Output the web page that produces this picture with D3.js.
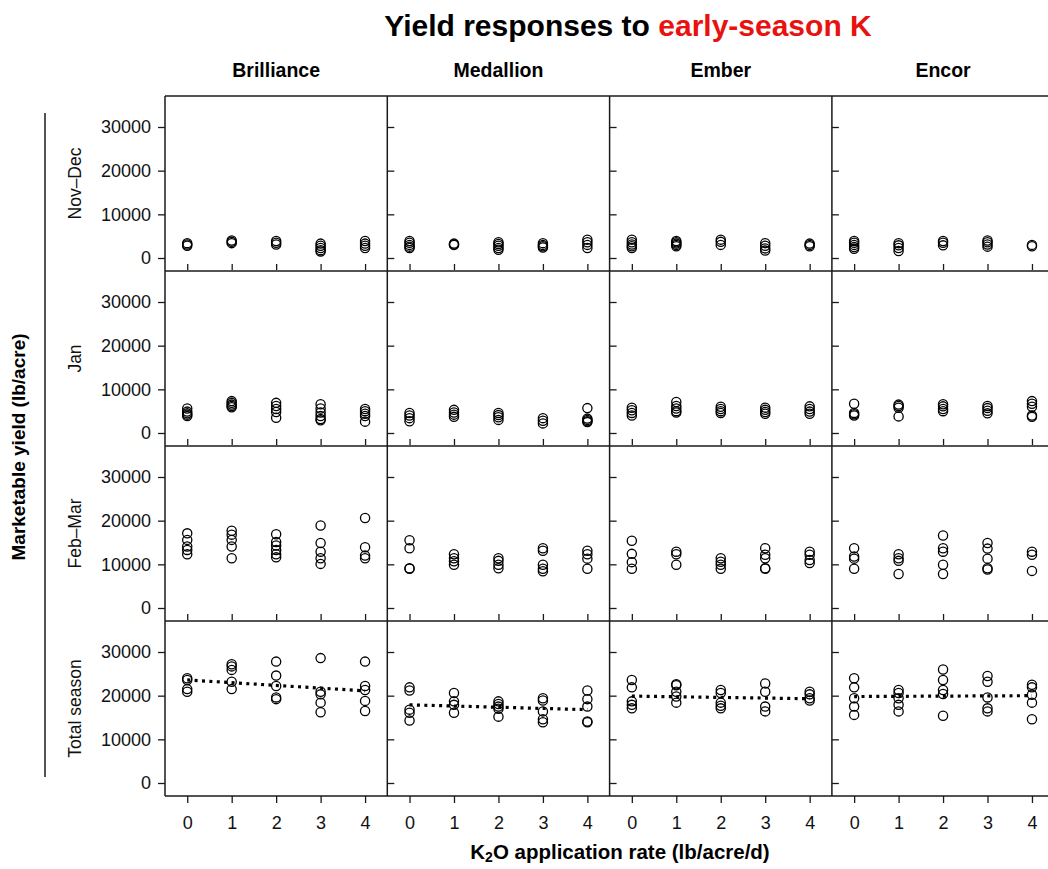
<!DOCTYPE html>
<html><head><meta charset="utf-8">
<script src="https://cdn.jsdelivr.net/npm/d3@7"></script>
<style>
html,body{margin:0;padding:0;background:#fff;}
svg{display:block;font-family:"Liberation Sans",Arial,sans-serif;}
</style></head>
<body><svg id="c" width="1048" height="869"></svg>
<script>
// ---- data ----
const cultivars = ["Brilliance", "Medallion", "Ember", "Encor"];
const periods = ["Nov\u2013Dec", "Jan", "Feb\u2013Mar", "Total season"];
const rates = [0, 1, 2, 3, 4];
const yTickValues = [0, 10000, 20000, 30000];

// each: cultivar -> rate -> replicate yields (lb/acre)
const novDecYield = [
  [[3400,3100,2800],[4000,3700,3400],[3900,3500,3100],[3300,2800,2300,1800,1500],[3900,3300,2800,2300]],
  [[3900,3500,3000,2600,2300],[3300,3100,3000],[3600,3200,2800,2300,1900],[3400,3000,2700,2400],[4200,3600,3000,2300]],
  [[4200,3600,3100,2700,2300],[3900,3600,3300,3000,2700],[4200,3700,3000],[3400,2800,2200,1700],[3300,3000,2700]],
  [[3900,3500,3000,2500,2100],[3400,2900,2300,1600],[3900,3500,2900],[4000,3600,3100,2600],[3000,2700]]
];
const janYield = [
  [[5600,4900,4500,4200,3900],[7300,6900,6500,6200,5900],[6900,6200,5500,4800,3500],[6600,5600,4700,3900,3200,2900],[5500,5000,4400,3900,2600]],
  [[4600,4000,3400,2700],[5300,4700,4200,3700],[4600,4100,3600,3000],[3400,2800,2200],[5700,3300,3000,2700,2500]],
  [[5800,5200,4600,4000],[7100,6200,5600,5000,4700],[6000,5500,5000,4600],[5800,5300,4800,4400],[6100,5500,4900,4400]],
  [[6700,4600,4300,4000],[6500,6200,5800,3800],[6600,6100,5500,5000],[6200,5700,5100,4500],[7300,6700,6000,4000,3700]]
];
const febMarYield = [
  [[17100,15600,14100,13300,12300],[17700,16800,15600,14100,11400],[16900,15100,14300,13300,12300,11600],[18900,14900,12900,11400,10100],[20600,13900,12000,11400]],
  [[15500,13700,9100,9000],[12300,11400,10700,9900],[11400,10800,9900,9100],[13700,13100,9900,9000,8400],[13100,12300,11300,9000]],
  [[15400,12400,10500,9000],[12900,12300,9900],[11400,10600,9900,9000],[13700,12200,11400,9100,9000],[12900,12200,11000,10300]],
  [[13700,11800,11300,9000],[12300,11400,10800,7800],[16600,13700,12900,9900,7800],[14900,13600,11300,9100,8800],[12900,12200,8500]]
];
const totalYield = [
  [[24000,23600,21500,20900],[27200,26700,25900,23200,21500],[27800,24600,22200,19600,19200],[28600,20900,20300,18400,16200],[27800,22200,21300,18800,16500]],
  [[21900,21200,16800,16100,14300],[20600,18700,17900,16100],[18700,18100,17500,17000,15200],[19400,18900,16400,14600,13900],[21200,19200,17500,14100,13900]],
  [[23600,21900,18700,17900,17100],[22600,22400,20900,19800,18400],[21300,20600,18400,17700,17100],[22800,20900,17500,16400],[20900,20300,19400,18900]],
  [[24000,21900,19400,17500,15600],[21300,20600,19400,17900,16400],[26000,23600,21300,20400,15400],[24500,23200,19600,17100,16400],[22500,21900,20200,18400,14600]]
];
// fitted trend (total season) at rate 0 and rate 4
const trendStart = [23600, 17900, 19900, 19800];
const trendEnd = [21100, 16800, 19300, 20000];

const rowData = [novDecYield, janYield, febMarYield, totalYield];

// ---- layout ----
const svg = d3.select("#c");
const L = 165, T = 96, colW = 222.3, rowH = 175;
const nCol = 4, nRow = 4;
const ink = "#1a1a1a";

function xScale(c) {
  return d3.scaleLinear().domain([-0.5, 4.5]).range([L + c * colW, L + (c + 1) * colW]);
}
function yScale(r) {
  const t = T + r * rowH;
  return d3.scaleLinear().domain([0, 30000]).range([t + 162, t + 31]);
}

// title
const title = svg.append("text").attr("x", 628).attr("y", 36)
  .attr("text-anchor", "middle").attr("font-weight", "bold").attr("font-size", 30);
title.append("tspan").attr("fill", "#000").text("Yield responses to ");
title.append("tspan").attr("fill", "#e8120f").text("early-season K");

// column titles
cultivars.forEach((c, i) => {
  svg.append("text").attr("x", L + (i + 0.5) * colW).attr("y", 77)
    .attr("text-anchor", "middle").attr("font-weight", "bold").attr("font-size", 19.5)
    .text(c);
});

// panels
for (let r = 0; r < nRow; r++) {
  const y = yScale(r);
  const t = T + r * rowH;
  for (let c = 0; c < nCol; c++) {
    const x = xScale(c);
    const g = svg.append("g");
    const x0 = L + c * colW;

    // y axis
    if (c === 0) {
      const ax = g.append("g").attr("transform", `translate(${x0},0)`)
        .call(d3.axisLeft(y).tickValues(yTickValues).tickSize(7).tickPadding(7).tickFormat(d3.format("d")));
      ax.select(".domain").remove();
      ax.selectAll("line").attr("stroke", ink).attr("stroke-width", 1.3);
      ax.selectAll("text").attr("font-size", 18).attr("fill", "#111")
        .attr("font-family", "Liberation Sans, Arial, sans-serif");
    } else {
      const ax = g.append("g").attr("transform", `translate(${x0},0)`)
        .call(d3.axisRight(y).tickValues(yTickValues).tickSize(7).tickFormat(""));
      ax.select(".domain").remove();
      ax.selectAll("line").attr("stroke", ink).attr("stroke-width", 1.3);
    }

    // x axis
    if (r === nRow - 1) {
      const ax = g.append("g").attr("transform", `translate(0,${t + rowH})`)
        .call(d3.axisBottom(x).tickValues(rates).tickSize(7).tickPadding(13).tickFormat(d3.format("d")));
      ax.select(".domain").remove();
      ax.selectAll("line").attr("stroke", ink).attr("stroke-width", 1.3);
      ax.selectAll("text").attr("font-size", 18).attr("fill", "#111")
        .attr("font-family", "Liberation Sans, Arial, sans-serif");
    } else {
      const ax = g.append("g").attr("transform", `translate(0,${t + rowH - 1})`)
        .call(d3.axisTop(x).tickValues(rates).tickSize(6).tickFormat(""));
      ax.select(".domain").remove();
      ax.selectAll("line").attr("stroke", ink).attr("stroke-width", 1.3);
    }

    // trend line (total season only)
    if (r === nRow - 1) {
      g.append("line")
        .attr("x1", x(rates[0])).attr("y1", y(trendStart[c]))
        .attr("x2", x(rates[rates.length - 1])).attr("y2", y(trendEnd[c]))
        .attr("stroke", "#000").attr("stroke-width", 3.2)
        .attr("stroke-dasharray", "3,4.4");
    }

    // points
    const pts = [];
    rowData[r][c].forEach((vals, k) => vals.forEach(v => pts.push({ k: rates[k], v })));
    g.selectAll("circle").data(pts).enter().append("circle")
      .attr("cx", d => x(d.k)).attr("cy", d => y(d.v)).attr("r", 4.6)
      .attr("fill", "none").attr("stroke", "#000").attr("stroke-width", 1.3);
  }
  // row label
  svg.append("text")
    .attr("transform", `translate(81,${t + rowH / 2}) rotate(-90)`)
    .attr("text-anchor", "middle").attr("font-size", 17.5).attr("fill", "#111")
    .text(periods[r]);
}

// panel frame lines
const frame = svg.append("g").attr("stroke", ink).attr("stroke-width", 1.5).attr("fill", "none");
const rightEdge = L + nCol * colW;
for (let r = 0; r <= nRow; r++) {
  frame.append("line").attr("x1", L).attr("x2", rightEdge)
    .attr("y1", T + r * rowH).attr("y2", T + r * rowH);
}
for (let c = 0; c <= nCol; c++) {
  frame.append("line").attr("y1", T).attr("y2", T + nRow * rowH)
    .attr("x1", L + c * colW).attr("x2", L + c * colW);
}

// outer y label + bar
svg.append("line").attr("x1", 45).attr("x2", 45).attr("y1", 113).attr("y2", 777)
  .attr("stroke", ink).attr("stroke-width", 1.5);
svg.append("text")
  .attr("transform", `translate(25,447) rotate(-90)`)
  .attr("text-anchor", "middle").attr("font-weight", "bold").attr("font-size", 19)
  .text("Marketable yield (lb/acre)");

// x label with subscript
const xl = svg.append("text").attr("x", 620).attr("y", 859)
  .attr("text-anchor", "middle").attr("font-weight", "bold").attr("font-size", 20.5);
xl.append("tspan").text("K");
xl.append("tspan").attr("font-size", 14).attr("dy", 3).text("2");
xl.append("tspan").attr("dy", -3).text("O application rate (lb/acre/d)");
</script></body></html>
